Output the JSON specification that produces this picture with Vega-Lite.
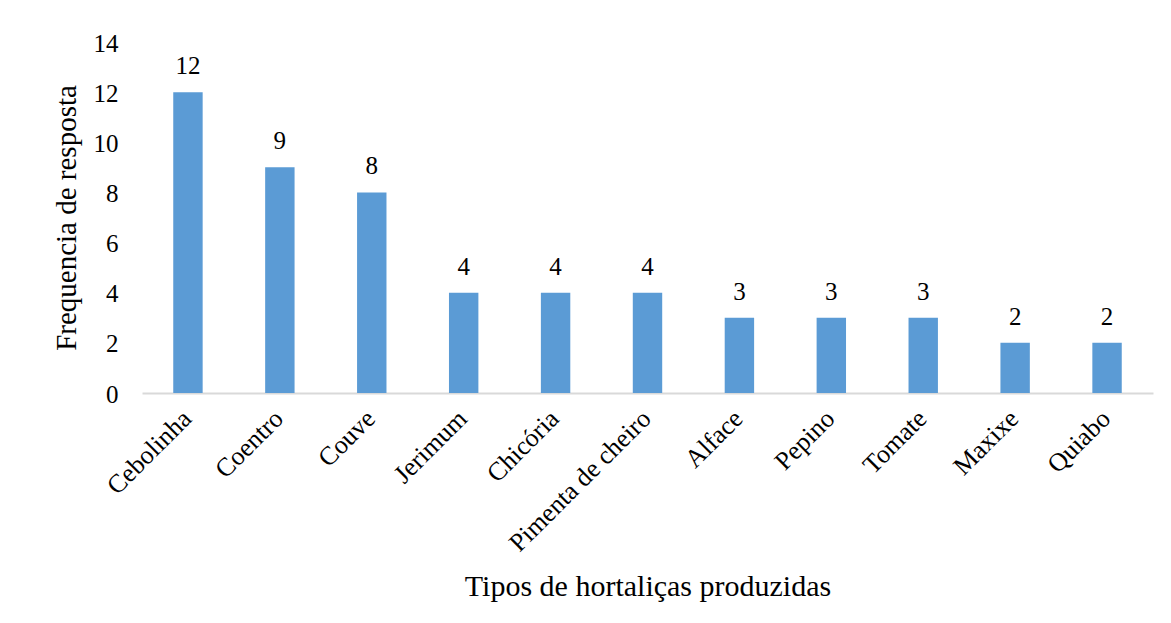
{
  "$schema": "https://vega.github.io/schema/vega-lite/v6.json",
  "width": 1011,
  "height": 351,
  "autosize": "none",
  "padding": {"left": 142, "top": 42, "right": 18, "bottom": 230},
  "background": "white",
  "config": {
    "view": {"stroke": null},
    "font": "Liberation Serif"
  },
  "data": {
    "values": [
      {"hortalica": "Cebolinha", "frequencia": 12},
      {"hortalica": "Coentro", "frequencia": 9},
      {"hortalica": "Couve", "frequencia": 8},
      {"hortalica": "Jerimum", "frequencia": 4},
      {"hortalica": "Chicória", "frequencia": 4},
      {"hortalica": "Pimenta de cheiro", "frequencia": 4},
      {"hortalica": "Alface", "frequencia": 3},
      {"hortalica": "Pepino", "frequencia": 3},
      {"hortalica": "Tomate", "frequencia": 3},
      {"hortalica": "Maxixe", "frequencia": 2},
      {"hortalica": "Quiabo", "frequencia": 2}
    ]
  },
  "encoding": {
    "x": {
      "field": "hortalica",
      "type": "nominal",
      "sort": null,
      "scale": {"paddingInner": 0.68, "paddingOuter": 0.34},
      "axis": {
        "title": "Tipos de hortaliças produzidas",
        "titleFontSize": 30,
        "titleFontWeight": "normal",
        "titleColor": "#000000",
        "titlePadding": 15,
        "labelAngle": -45,
        "labelFontSize": 26,
        "labelColor": "#000000",
        "labelPadding": 12,
        "labelOffset": -10,
        "labelLimit": 400,
        "ticks": false,
        "tickSize": 0,
        "domainColor": "#D9D9D9",
        "domainWidth": 2
      }
    },
    "y": {
      "field": "frequencia",
      "type": "quantitative",
      "scale": {"domain": [0, 14], "nice": false},
      "axis": {
        "title": "Frequencia de resposta",
        "titleFontSize": 29,
        "titleFontWeight": "normal",
        "titleColor": "#000000",
        "titlePadding": 12,
        "values": [0, 2, 4, 6, 8, 10, 12, 14],
        "labelFontSize": 25,
        "labelColor": "#000000",
        "labelPadding": 24,
        "labelOffset": 1,
        "grid": false,
        "domain": false,
        "ticks": false,
        "tickSize": 0
      }
    }
  },
  "layer": [
    {"mark": {"type": "bar", "color": "#5B9BD5"}},
    {
      "mark": {
        "type": "text",
        "baseline": "alphabetic",
        "dy": -18,
        "fontSize": 25,
        "color": "#000000"
      },
      "encoding": {"text": {"field": "frequencia", "type": "quantitative"}}
    }
  ]
}
